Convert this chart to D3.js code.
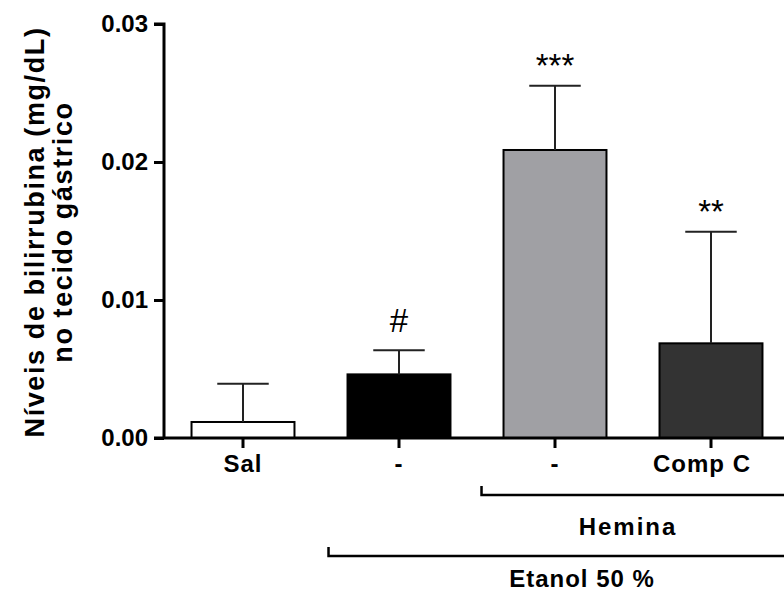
<!DOCTYPE html>
<html>
<head>
<meta charset="utf-8">
<script src="https://cdn.jsdelivr.net/npm/d3@7"></script>
<style>
  body { margin: 0; background: #fff; }
  text { font-family: "Liberation Sans", Arial, sans-serif; font-weight: bold; }
</style>
</head>
<body>
<div id="chart"></div>
<script>
// data
const groups = ["Sal", "-", "- ", "Comp C"];
const means = [0.00116, 0.00461, 0.02087, 0.00686];
const errTop = [0.00393, 0.00635, 0.02553, 0.01495];
const signif = ["", "#", "***", "**"];
const fills = ["#ffffff", "#000000", "#a0a0a4", "#333333"];
const yTicks = [0, 0.01, 0.02, 0.03];

const width = 784, height = 593;
const margin = {top: 24, right: 0, bottom: 155, left: 164};

const svg = d3.select("#chart").append("svg")
    .attr("width", width)
    .attr("height", height);

const x = d3.scaleBand()
    .domain(groups)
    .range([margin.left + 1, margin.left + 1 + 4 * 156])
    .paddingInner(0.34)
    .paddingOuter(0.17);

const y = d3.scaleLinear()
    .domain([0, 0.03])
    .range([height - margin.bottom, margin.top]);

// bars
svg.selectAll(".bar")
    .data(groups)
    .enter()
    .append("rect")
    .attr("class", "bar")
    .attr("x", d => x(d))
    .attr("y", (d, i) => y(means[i]))
    .attr("width", x.bandwidth())
    .attr("height", (d, i) => y(0) - y(means[i]))
    .attr("fill", (d, i) => fills[i])
    .attr("stroke", "#000")
    .attr("stroke-width", 2);

// error bars (upper only)
const eb = svg.selectAll(".err")
    .data(groups)
    .enter()
    .append("g")
    .attr("class", "err")
    .attr("stroke", "#222")
    .attr("stroke-width", 2);

eb.append("line")
    .attr("x1", d => x(d) + x.bandwidth() / 2)
    .attr("x2", d => x(d) + x.bandwidth() / 2)
    .attr("y1", (d, i) => y(means[i]))
    .attr("y2", (d, i) => y(errTop[i]));

eb.append("line")
    .attr("x1", d => x(d) + x.bandwidth() / 4)
    .attr("x2", d => x(d) + x.bandwidth() * 3 / 4)
    .attr("y1", (d, i) => y(errTop[i]))
    .attr("y2", (d, i) => y(errTop[i]));

// significance marks
svg.selectAll(".sig")
    .data(groups)
    .enter()
    .append("text")
    .attr("class", "sig")
    .attr("x", d => x(d) + x.bandwidth() / 2)
    .attr("y", (d, i) => y(errTop[i]) - (signif[i].includes("*") ? 9 : 18))
    .attr("text-anchor", "middle")
    .style("font-size", "33px")
    .style("font-weight", "normal")
    .text((d, i) => signif[i]);

// y axis
const yAxis = d3.axisLeft(y)
    .tickValues(yTicks)
    .tickFormat(d3.format(".2f"))
    .tickSize(10)
    .tickPadding(6);

const yg = svg.append("g")
    .attr("transform", "translate(" + margin.left + ",0)")
    .call(yAxis);
yg.select(".domain").attr("stroke-width", 3).attr("d", "M-10," + y(0.03) + "H0V" + y(0));
yg.selectAll(".tick line").attr("stroke-width", 3);
yg.selectAll(".tick text").style("font-size", "24px").attr("fill", "#000");

// x axis
const xAxis = d3.axisBottom(x)
    .tickSize(10)
    .tickPadding(7)
    .tickSizeOuter(0);

const xg = svg.append("g")
    .attr("transform", "translate(0," + y(0) + ")")
    .call(xAxis);
xg.select(".domain").attr("stroke-width", 3).attr("d", "M" + (margin.left - 10) + ",0H" + width);
xg.selectAll(".tick line").attr("stroke-width", 3);
xg.selectAll(".tick text")
    .style("font-size", "24px")
    .style("letter-spacing", "1px")
    .attr("dx", d => d === "Comp C" ? -9 : 0)
    .attr("fill", "#000");

// group brackets
function bracket(x0, yy, label, lx, ly, spacing) {
    svg.append("path")
        .attr("d", "M" + x0 + "," + (yy - 9) + "V" + yy + "H" + width)
        .attr("fill", "none")
        .attr("stroke", "#000")
        .attr("stroke-width", 2.5);
    svg.append("text")
        .attr("x", lx)
        .attr("y", ly)
        .attr("text-anchor", "middle")
        .style("font-size", "24px")
        .style("letter-spacing", spacing)
        .text(label);
}
bracket(x(groups[2]) - 22, 495, "Hemina", 628, 535, "2px");
bracket(x(groups[1]) - 19, 556, "Etanol 50 %", 582, 587, "1px");

// y axis title
const yt = svg.append("text")
    .attr("transform", "translate(44,232) rotate(-90)")
    .attr("text-anchor", "middle")
    .style("font-size", "27px")
    .style("letter-spacing", "1.6px");
yt.append("tspan").attr("x", 0).attr("dy", 0).text("Níveis de bilirrubina (mg/dL)");
yt.append("tspan").attr("x", 0).attr("dy", 28).text("no tecido gástrico");
</script>
</body>
</html>
